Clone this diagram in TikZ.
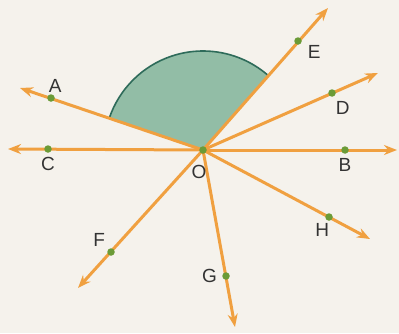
\documentclass[tikz,border=0pt]{standalone}
\usepackage{fontspec}
\setmainfont{Liberation Sans}
\usepackage{tikz}
\usetikzlibrary{arrows.meta,positioning,calc}
\definecolor{paper}{HTML}{F5F2EC}
\definecolor{rayorange}{HTML}{F0A040}
\definecolor{dotgreen}{HTML}{6B9B37}
\definecolor{sectorfill}{HTML}{92BDA6}
\definecolor{sectoredge}{HTML}{2E6B5A}
\definecolor{ink}{HTML}{333333}

\begin{document}
\begin{tikzpicture}[
  x=1pt,y=1pt,
  node distance=4pt,
  every node/.style={font=\fontsize{19}{21}\selectfont,text=ink},
  ray/.style={-{Stealth[length=13pt,width=10pt]},line width=3pt,draw=rayorange},
  dot/.style={circle,fill=dotgreen,inner sep=0pt,minimum size=7.5pt},
  tag/.style={inner sep=1pt}
]
\fill[paper] (0,0) rectangle (399,333);
\useasboundingbox (0,0) rectangle (399,333);
\coordinate (O) at (203,183);
% ray tips
\coordinate (tA) at (20,245);
\coordinate (tC) at (8,184);
\coordinate (tE) at (328,325);
\coordinate (tD) at (378,260);
\coordinate (tB) at (397,183);
\coordinate (tF) at (78,45);
\coordinate (tH) at (370,94);
\coordinate (tG) at (235,6);
% shaded angle AOE
\fill[sectorfill] (O) -- ++(48.6:99) arc (48.6:161.3:99) -- cycle;
\draw[sectoredge,line width=1.6pt] ($(O)+(48.6:99)$) arc (48.6:161.3:99);
\draw[ray] (O) -- (tA);
\draw[ray] (O) -- (tC);
\draw[ray] (O) -- (tE);
\draw[ray] (O) -- (tD);
\draw[ray] (O) -- (tB);
\draw[ray] (O) -- (tF);
\draw[ray] (O) -- (tH);
\draw[ray] (O) -- (tG);
% points on the rays
\node[dot] (o) at (O) {};
\node[dot] (A) at (51,235) {};
\node[dot] (C) at (48,184) {};
\node[dot] (E) at (298,292) {};
\node[dot] (D) at (332,240) {};
\node[dot] (B) at (345,183) {};
\node[dot] (F) at (111,81) {};
\node[dot] (H) at (329,116) {};
\node[dot] (G) at (226,57) {};
% labels
\node[tag] (lO) at (199,161) {O};
\node[tag,above right=2pt and -6pt of A] (lA) {A};
\node[tag,below=3pt of C] (lC) {C};
\node[tag,below right=0pt and 6pt of E] (lE) {E};
\node[tag,below right=4pt and 0pt of D] (lD) {D};
\node[tag,below=3pt of B] (lB) {B};
\node[tag,above left=2pt and 2pt of F] (lF) {F};
\node[tag,below left=2pt and -4pt of H] (lH) {H};
\node[tag,left=4pt of G] (lG) {G};
\end{tikzpicture}
\end{document}
